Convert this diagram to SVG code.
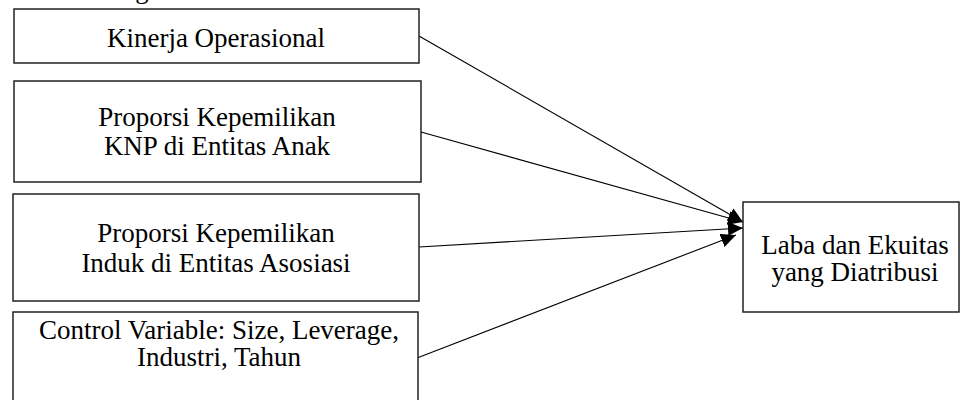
<svg xmlns="http://www.w3.org/2000/svg" width="960" height="400" viewBox="0 0 960 400">
<defs>
<style>
.box{fill:#fff;stroke:#222;stroke-width:1.5}
.t{font-family:"Liberation Serif","Times New Roman",serif;font-size:27px;fill:#000;text-anchor:middle}
.c{stroke:#000;stroke-width:1.1;fill:none;marker-end:url(#ah)}
</style>
<marker id="ah" markerUnits="userSpaceOnUse" markerWidth="16" markerHeight="14" refX="15" refY="7" orient="auto">
<path d="M0,0 L15,7 L0,14 Z" fill="#000"/>
</marker>
</defs>
<rect width="960" height="400" fill="#fff"/>
<text class="t" x="142" y="-2">g</text>
<g id="connectors">
<line class="c" x1="419" y1="36" x2="743" y2="222"/>
<line class="c" x1="421" y1="132" x2="743" y2="222"/>
<line class="c" x1="419" y1="247" x2="743" y2="228"/>
<line class="c" x1="417" y1="358" x2="736" y2="235"/>
</g>
<g id="kinerja">
<rect class="box" x="14" y="9" width="405" height="54"/>
<text class="t" x="216" y="47">Kinerja Operasional</text>
</g>
<g id="knp">
<rect class="box" x="14" y="81" width="407" height="101"/>
<text class="t" x="217" y="126">Proporsi Kepemilikan</text>
<text class="t" x="217" y="155">KNP di Entitas Anak</text>
</g>
<g id="induk">
<rect class="box" x="13" y="194" width="406" height="107"/>
<text class="t" x="216" y="242">Proporsi Kepemilikan</text>
<text class="t" x="216" y="272">Induk di Entitas Asosiasi</text>
</g>
<g id="control">
<rect class="box" x="13" y="312" width="405" height="100"/>
<text class="t" x="219" y="339">Control Variable: Size, Leverage,</text>
<text class="t" x="219" y="366">Industri, Tahun</text>
</g>
<g id="laba">
<rect class="box" x="743" y="202" width="216" height="110"/>
<text class="t" x="855" y="254">Laba dan Ekuitas</text>
<text class="t" x="855" y="281">yang Diatribusi</text>
</g>
</svg>
